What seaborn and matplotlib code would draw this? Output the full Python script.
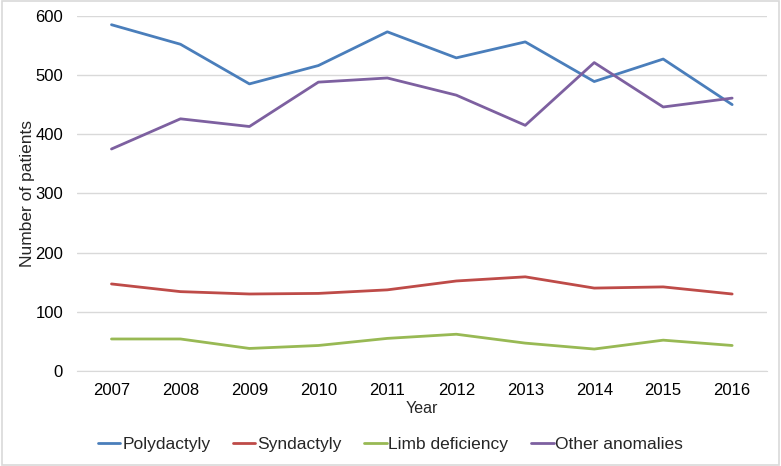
import pandas as pd
import numpy as np
import seaborn as sns
import matplotlib.pyplot as plt
from matplotlib.patches import Rectangle

years = [2007, 2008, 2009, 2010, 2011, 2012, 2013, 2014, 2015, 2016]
polydactyly = [585, 552, 485, 516, 573, 529, 556, 489, 527, 450]
syndactyly = [147, 134, 130, 131, 137, 152, 159, 140, 142, 130]
limb_deficiency = [54, 54, 38, 43, 55, 62, 47, 37, 52, 43]
other_anomalies = [375, 426, 413, 488, 495, 466, 415, 521, 446, 461]

series_names = ['Polydactyly', 'Syndactyly', 'Limb deficiency', 'Other anomalies']
colors = ['#4A7EBB', '#BE4B48', '#98B954', '#7D60A0']

df = pd.DataFrame({'Year': years, 'Polydactyly': polydactyly, 'Syndactyly': syndactyly,
                   'Limb deficiency': limb_deficiency, 'Other anomalies': other_anomalies})
long_df = df.melt(id_vars='Year', var_name='Type', value_name='Patients')

sns.set_style('white')
plt.rcParams['font.family'] = ['Liberation Sans', 'DejaVu Sans']

fig = plt.figure(figsize=(7.81, 4.66), dpi=100)
ax = fig.add_axes([0.0986, 0.204, 0.883, 0.762])
sns.lineplot(data=long_df, x='Year', y='Patients', hue='Type', hue_order=series_names,
             palette=colors, linewidth=2, ax=ax, legend=False)

ax.set_xlim(2006.5, 2016.5)
ax.set_ylim(0, 600)
ax.set_xticks(years)
ax.set_yticks(range(0, 601, 100))
ax.tick_params(axis='both', length=0, labelsize=12, colors='#000000')
ax.tick_params(axis='y', pad=10)
ax.tick_params(axis='x', pad=9)
ax.yaxis.grid(True, color='#D9D9D9', linewidth=1)
ax.set_axisbelow(True)
for s in ['top', 'right', 'left']:
    ax.spines[s].set_visible(False)
ax.spines['bottom'].set_color('#D9D9D9')
ax.set_xlabel('Year', fontsize=11.5, labelpad=2)
ax.set_ylabel('Number of patients', fontsize=12.5, labelpad=0)

handles = [plt.Line2D([], [], color=c, linewidth=2) for c in colors]
fig.legend(handles, series_names, loc='center', bbox_to_anchor=(0.5, 0.047), ncol=4,
           frameon=False, fontsize=12.5, handlelength=1.3, handletextpad=0.1, columnspacing=1.3)

fig.patches.append(Rectangle((0.002, 0.003), 0.996, 0.994, transform=fig.transFigure,
                             fill=False, edgecolor='#D9D9D9', linewidth=1.2))

plt.savefig('out.png', dpi=100)
